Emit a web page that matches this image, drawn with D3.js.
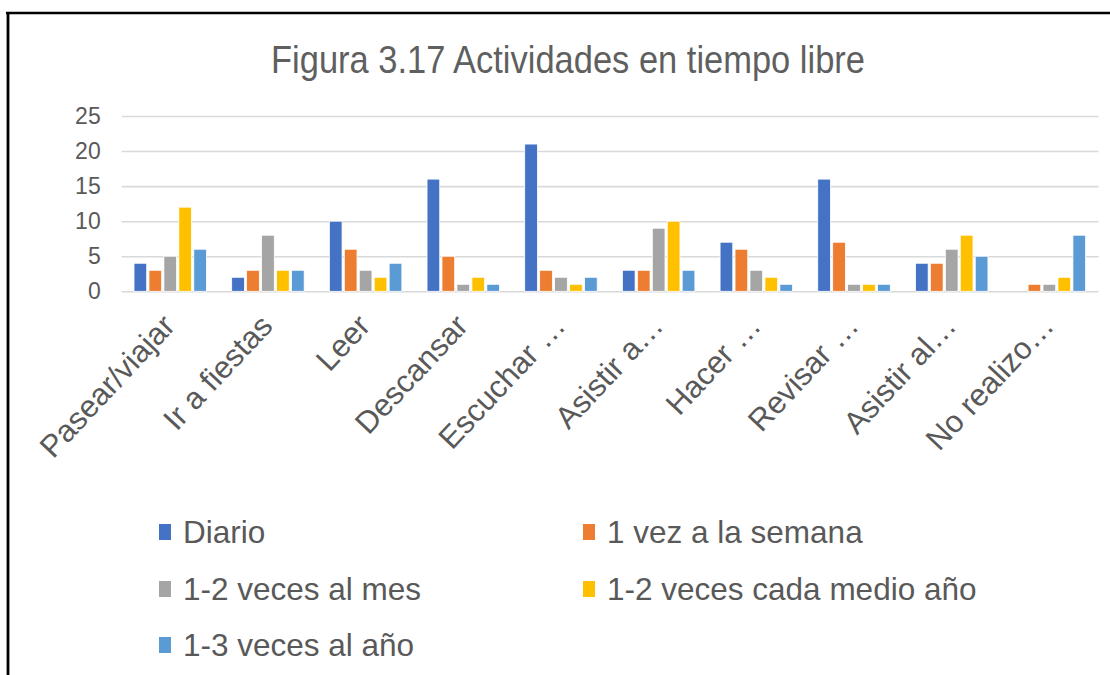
<!DOCTYPE html>
<html>
<head>
<meta charset="utf-8">
<script src="https://cdn.jsdelivr.net/npm/d3@7"></script>
<style>
  html, body { margin: 0; padding: 0; background: #fff; }
  svg { display: block; }
  .tick text { fill: #595959; }
</style>
</head>
<body>
<svg id="chart" width="1110" height="675"></svg>
<script>
// ============
// DATA
// ============

const categories = ["Pasear/viajar", "Ir a fiestas", "Leer", "Descansar", "Escuchar …",
                    "Asistir a…", "Hacer …", "Revisar …", "Asistir al…", "No realizo…"];

const seriesNames = ["Diario", "1 vez a la semana", "1-2 veces al mes",
                     "1-2 veces cada medio año", "1-3 veces al año"];

const diario      = [4, 2, 10, 16, 21, 3, 7, 16, 4, 0];
const semana      = [3, 3, 6, 5, 3, 3, 6, 7, 4, 1];
const mes         = [5, 8, 3, 1, 2, 9, 3, 1, 6, 1];
const medioAnio   = [12, 3, 2, 2, 1, 10, 2, 1, 8, 2];
const anio        = [6, 3, 4, 1, 2, 3, 1, 1, 5, 8];

const yTicks = [0, 5, 10, 15, 20, 25];

const colors = ["#4472C4", "#ED7D31", "#A5A5A5", "#FFC000", "#5B9BD5"];

const seriesValues = [diario, semana, mes, medioAnio, anio];

// ============
// SETUP
// ============

const svg = d3.select("#chart");

// frame (only left and top edges show)
svg.append("line").attr("x1", 6).attr("x2", 1110).attr("y1", 13).attr("y2", 13)
	.attr("stroke", "#000").attr("stroke-width", 2.6);
svg.append("line").attr("x1", 8).attr("x2", 8).attr("y1", 12).attr("y2", 675)
	.attr("stroke", "#000").attr("stroke-width", 2.8);

// title
svg.append("text")
	.attr("x", 568)
	.attr("y", 73)
	.attr("text-anchor", "middle")
	.attr("fill", "#5f5f5f")
	.style("font-family", "'Liberation Sans Narrow', 'Arial Narrow', 'Liberation Sans', sans-serif")
	.style("font-size", "39px")
	.attr("textLength", 594)
	.attr("lengthAdjust", "spacingAndGlyphs")
	.text("Figura 3.17 Actividades en tiempo libre");

// ============
// SCALES
// ============

const left = 121.7, right = 1098.5;
const yBottom = 291.3, yTop = 116;

const x0 = d3.scaleBand().domain(categories).range([left, right]).padding(0);
const x1 = d3.scaleBand().domain(seriesNames).range([12.3, 84.8]).paddingInner(0.15).paddingOuter(0);
const y = d3.scaleLinear().domain([0, 25]).range([yBottom, yTop]);

// ============
// GRIDLINES + Y AXIS
// ============

const yAxis = svg.append("g")
	.attr("transform", "translate(" + left + ",0)")
	.call(d3.axisLeft(y).tickValues(yTicks).tickSize(-(right - left)).tickPadding(21));

yAxis.select(".domain").remove();
yAxis.selectAll(".tick line").attr("stroke", "#d9d9d9").attr("stroke-width", 1.6);
yAxis.selectAll(".tick text")
	.style("font-family", "'Liberation Sans', Arial, sans-serif")
	.style("font-size", "23px");

// ============
// BARS
// ============

const groups = svg.append("g")
	.selectAll("g")
	.data(categories)
	.enter()
	.append("g")
		.attr("transform", d => "translate(" + x0(d) + ",0)");

groups.selectAll("rect")
	.data((d, i) => seriesNames.map((s, k) => ({ s: s, k: k, v: seriesValues[k][i] })))
	.enter()
	.append("rect")
		.attr("x", d => x1(d.s))
		.attr("width", x1.bandwidth())
		.attr("y", d => y(d.v))
		.attr("height", d => y(0) - y(d.v))
		.attr("fill", d => colors[d.k])
		.attr("stroke", "#fff")
		.attr("stroke-width", 0.8);

// ============
// X AXIS (category labels)
// ============

const xAxis = svg.append("g")
	.attr("transform", "translate(0," + yBottom + ")")
	.call(d3.axisBottom(x0).tickSize(0));

xAxis.select(".domain").remove();
xAxis.selectAll(".tick text")
	.attr("x", 0).attr("y", 0).attr("dy", 0)
	.attr("text-anchor", "end")
	.attr("transform", "translate(6,36) rotate(-47)")
	.style("font-family", "'Liberation Sans', Arial, sans-serif")
	.style("font-size", "31px");

// ============
// LEGEND
// ============

const legendX = [159, 583];
const legendY = [532, 589, 645];

const legend = svg.append("g")
	.selectAll("g")
	.data(seriesNames)
	.enter()
	.append("g")
		.attr("transform", (d, i) => "translate(" + legendX[i % 2] + "," + legendY[Math.floor(i / 2)] + ")");

legend.append("rect")
	.attr("x", 0).attr("y", -8)
	.attr("width", 12).attr("height", 16)
	.attr("fill", (d, i) => colors[i]);

legend.append("text")
	.attr("x", 24)
	.attr("y", 11)
	.attr("fill", "#595959")
	.style("font-family", "'Liberation Sans', Arial, sans-serif")
	.style("font-size", "31.5px")
	.text(d => d);
</script>
</body>
</html>
